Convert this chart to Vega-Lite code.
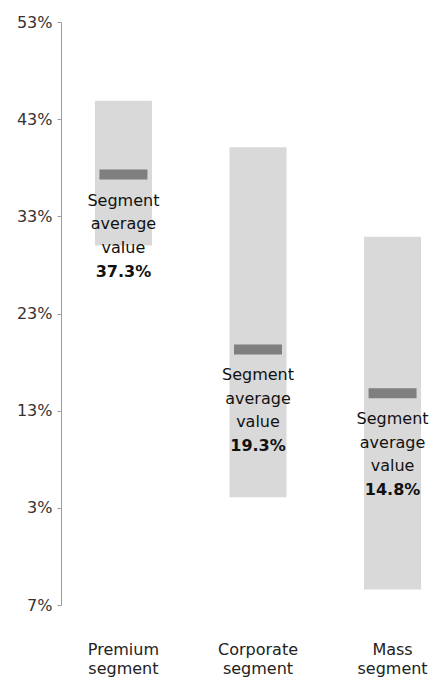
{
  "$schema": "https://vega.github.io/schema/vega-lite/v6.json",
  "autosize": {"type": "none"},
  "padding": {"left": 61, "top": 22, "right": 5, "bottom": 74},
  "width": 380,
  "height": 583,
  "background": "white",
  "config": {
    "view": {"stroke": null},
    "font": "DejaVu Sans"
  },
  "data": {
    "values": [
      {"segment": "Premium segment", "low": 30.0, "high": 44.9, "avg": 37.3},
      {"segment": "Corporate segment", "low": 4.1, "high": 40.1, "avg": 19.3},
      {"segment": "Mass segment", "low": -5.4, "high": 30.9, "avg": 14.8}
    ]
  },
  "encoding": {
    "x": {
      "field": "segment",
      "type": "nominal",
      "sort": null,
      "scale": {"paddingInner": 0.576, "paddingOuter": 0.2, "align": 0.63},
      "axis": {
        "title": null,
        "orient": "bottom",
        "domain": false,
        "ticks": false,
        "labelAngle": 0,
        "labelPadding": 36,
        "labelFontSize": 16,
        "labelColor": "#222222",
        "labelLineHeight": 19,
        "labelExpr": "split(datum.label, ' ')"
      }
    }
  },
  "layer": [
    {
      "mark": {"type": "bar", "color": "#d9d9d9"},
      "encoding": {
        "y": {
          "field": "low",
          "type": "quantitative",
          "scale": {"domain": [-7, 53], "nice": false, "zero": false},
          "axis": {
            "title": null,
            "values": [-7, 3, 13, 23, 33, 43, 53],
            "labelExpr": "abs(datum.value) + '%'",
            "grid": false,
            "domainColor": "#9a9a9a",
            "tickColor": "#9a9a9a",
            "tickSize": 4,
            "labelPadding": 5,
            "labelFontSize": 16,
            "labelColor": "#333333"
          }
        },
        "y2": {"field": "high"}
      }
    },
    {
      "mark": {"type": "tick", "color": "#7f7f7f", "size": 48, "thickness": 10, "opacity": 1},
      "encoding": {
        "y": {"field": "avg", "type": "quantitative"}
      }
    },
    {
      "mark": {
        "type": "text",
        "baseline": "top",
        "align": "center",
        "dy": 18,
        "fontSize": 16,
        "lineHeight": 23.5,
        "color": "#111111",
        "text": ["Segment", "average", "value"]
      },
      "encoding": {
        "y": {"field": "avg", "type": "quantitative"}
      }
    },
    {
      "mark": {
        "type": "text",
        "baseline": "top",
        "align": "center",
        "dy": 89,
        "fontSize": 16,
        "fontWeight": "bold",
        "color": "#111111",
        "text": {"expr": "format(datum.avg, '.1f') + '%'"}
      },
      "encoding": {
        "y": {"field": "avg", "type": "quantitative"}
      }
    }
  ]
}
